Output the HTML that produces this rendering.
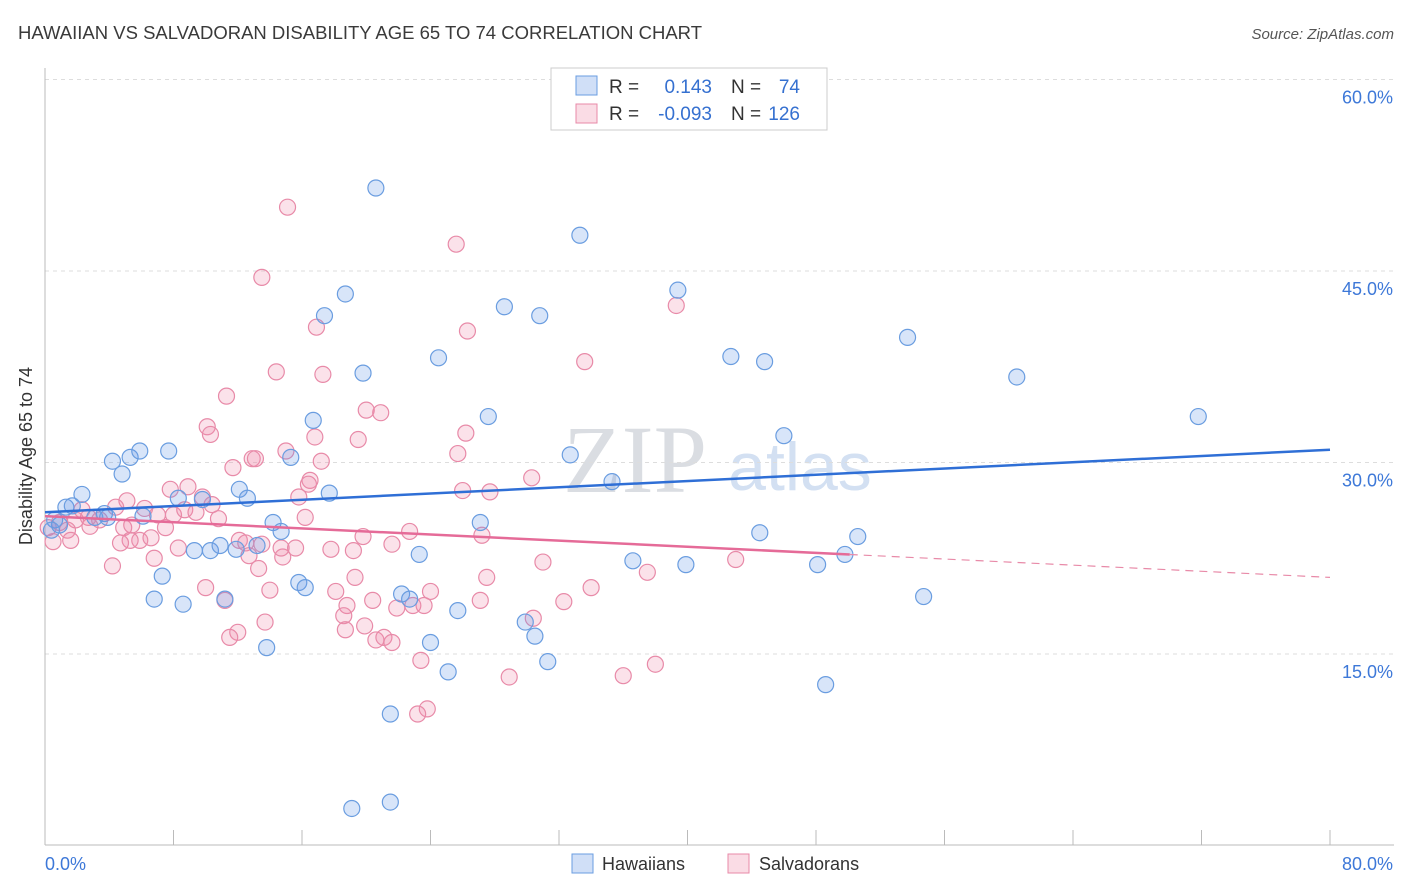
<!DOCTYPE html>
<html><head><meta charset="utf-8">
<style>
body{margin:0;background:#fff;font-family:"Liberation Sans",sans-serif;}
svg{display:block}
</style></head>
<body>
<svg id="chart" width="1406" height="892">
<text x="18" y="39" font-size="18.5" fill="#3a3a3a">HAWAIIAN VS SALVADORAN DISABILITY AGE 65 TO 74 CORRELATION CHART</text>
<text x="1394" y="39" font-size="15" fill="#555" font-style="italic" text-anchor="end">Source: ZipAtlas.com</text>
<text x="635" y="492" font-size="96" fill="#dadde2" font-family="Liberation Serif,serif" text-anchor="middle">ZIP</text>
<text x="800" y="490" font-size="68" fill="#d3e0f2" text-anchor="middle">atlas</text>
<g id="grid"></g>
<g id="axes"></g>
<g id="marks"></g>
<g id="lines"></g>
<text transform="translate(32,456) rotate(-90)" font-size="18" fill="#333" text-anchor="middle">Disability Age 65 to 74</text>
<g>
<rect x="551" y="68" width="276" height="62" fill="#fff" stroke="#ccc"/>
<rect x="576" y="76" width="21" height="19" fill="rgba(100,150,230,0.3)" stroke="#6a9de0"/>
<rect x="576" y="104" width="21" height="19" fill="rgba(240,140,170,0.3)" stroke="#e88aa8"/>
<text x="609" y="93" font-size="19" fill="#333">R = </text>
<text x="712" y="93" font-size="19" fill="#3570d0" text-anchor="end">0.143</text>
<text x="731" y="93" font-size="19" fill="#333">N = </text>
<text x="800" y="93" font-size="19" fill="#3570d0" text-anchor="end">74</text>
<text x="609" y="120" font-size="19" fill="#333">R = </text>
<text x="712" y="120" font-size="19" fill="#3570d0" text-anchor="end">-0.093</text>
<text x="731" y="120" font-size="19" fill="#333">N = </text>
<text x="800" y="120" font-size="19" fill="#3570d0" text-anchor="end">126</text>
</g>
<g>
<rect x="572" y="854" width="21" height="19" fill="rgba(100,150,230,0.3)" stroke="#6a9de0"/>
<text x="602" y="870" font-size="18" fill="#333">Hawaiians</text>
<rect x="728" y="854" width="21" height="19" fill="rgba(240,140,170,0.3)" stroke="#e88aa8"/>
<text x="759" y="870" font-size="18" fill="#333">Salvadorans</text>
</g>
</svg>
<script>
const yTicks=[15,30,45,60];
const yTickLabels=["15.0%","30.0%","45.0%","60.0%"];
const xTicks=[0,8,16,24,32,40,48,56,64,72,80];
const blueX=[20.6,33.3,18.7,39.4,17.4,28.6,30.8,24.5,42.7,44.8,53.7,60.5,19.8,71.8,16.7,27.6,46.0,32.7,15.3,4.2,5.3,5.9,7.7,4.8,35.3,2.3,1.3,1.7,12.1,12.6,8.3,9.8,17.7,3.1,3.7,3.9,6.1,0.6,0.9,0.4,14.2,14.7,27.1,44.5,50.6,49.8,9.3,10.3,10.9,11.9,13.2,23.3,36.6,39.9,48.1,7.3,15.8,16.2,22.2,22.7,6.8,8.6,11.2,25.7,29.9,30.5,13.8,24.0,54.7,25.1,31.3,48.6,21.5,19.1,21.5];
const blueY=[51.5,47.8,43.2,43.5,41.5,42.2,41.5,38.2,38.3,37.9,39.8,36.7,37.0,33.6,33.3,33.6,32.1,30.6,30.4,30.1,30.4,30.9,30.9,29.1,28.5,27.5,26.5,26.6,27.9,27.2,27.2,27.1,27.6,25.7,26.0,25.7,25.8,25.5,25.1,24.7,25.3,24.6,25.3,24.5,24.2,22.8,23.1,23.1,23.5,23.2,23.5,22.8,22.3,22.0,22.0,21.1,20.6,20.2,19.7,19.3,19.3,18.9,19.3,18.4,17.5,16.4,15.5,15.9,19.5,13.6,14.4,12.6,10.3,2.9,3.4];
const pinkX=[15.1,25.6,13.5,39.3,16.9,26.3,33.6,14.4,17.3,11.3,20.0,20.9,10.1,10.3,19.5,26.2,15.0,16.8,25.7,12.9,13.1,11.7,17.2,30.3,16.5,16.4,15.8,26.0,27.7,7.8,8.9,5.1,6.2,7.0,8.0,8.7,9.4,10.4,10.8,9.8,16.2,4.4,2.3,2.7,3.4,1.9,0.9,1.4,0.2,0.5,1.6,2.8,4.9,5.4,5.9,6.6,7.5,8.3,5.3,4.7,4.2,6.8,12.1,12.5,12.7,13.3,13.5,14.8,14.7,15.6,17.8,19.2,19.8,21.6,22.7,27.2,31.0,43.0,14.0,13.7,12.0,11.5,10.0,18.1,19.3,20.4,18.8,18.6,19.9,18.7,20.6,21.1,21.6,21.9,22.9,23.6,24.0,27.1,27.5,30.4,32.3,34.0,37.5,23.4,23.8,23.2,28.9,36.0,38.0,11.2];
const pinkY=[50.0,47.1,44.5,42.3,40.6,40.3,37.9,37.1,36.9,35.2,34.1,33.9,32.8,32.2,31.8,32.3,30.9,32.0,30.7,30.3,30.3,29.6,30.1,28.8,28.6,28.3,27.3,27.8,27.7,27.9,28.1,27.0,26.4,25.9,25.9,26.3,26.1,26.7,25.6,27.3,25.7,26.5,26.3,25.7,25.5,25.5,25.3,24.7,24.9,23.8,23.9,25.0,24.9,25.1,23.9,24.1,24.9,23.3,23.9,23.7,21.9,22.5,23.9,23.7,22.7,21.7,23.6,22.6,23.3,23.3,23.2,23.1,24.2,23.6,24.6,24.3,22.2,22.4,20.0,17.5,16.7,16.3,20.2,19.9,21.0,19.2,18.8,18.0,17.2,16.9,16.1,16.3,15.9,18.6,18.8,18.8,19.9,19.2,21.0,17.8,19.1,20.2,21.4,14.5,10.7,10.3,13.2,13.3,14.2,19.2];
const blueTrend=[26.1,31.0];
const pinkTrend=[25.8,21.0];
const pinkSolidEnd=50.1;

const NS="http://www.w3.org/2000/svg";
const X0=45,X1=1330,Y0=845.5,YS=191.5/15;
const xs=v=>X0+(X1-X0)*v/80;
const ys=v=>Y0-v*YS;
function mk(tag,attrs,parent){const e=document.createElementNS(NS,tag);for(const k in attrs)e.setAttribute(k,attrs[k]);document.getElementById(parent).appendChild(e);return e;}
yTicks.forEach((t,i)=>{
  const g=mk('line',{x1:45,x2:1394,y1:ys(t),y2:ys(t),stroke:'#ddd','stroke-dasharray':'4,4'},'grid');
  
  
  const l=mk('text',{x:1393,y:ys(t)+24,'font-size':18,fill:'#3d78d8','text-anchor':'end'},'axes');
  l.textContent=yTickLabels[i];
  
  
});
const ax=mk('line',{x1:45,x2:45,y1:68,y2:845,stroke:'#bbb'},'axes');


const bx=mk('line',{x1:45,x2:1394,y1:845,y2:845,stroke:'#bbb'},'axes');


xTicks.forEach(t=>{
  const k=mk('line',{x1:xs(t),x2:xs(t),y1:830,y2:845,stroke:'#bbb'},'axes');
  
  
});
const xl0=mk('text',{x:45,y:870,'font-size':18,fill:'#3d78d8'},'axes');xl0.textContent='0.0%';


const xl1=mk('text',{x:1393,y:870,'font-size':18,fill:'#3d78d8','text-anchor':'end'},'axes');xl1.textContent='80.0%';


pinkX.forEach((x,i)=>{
  const c=mk('circle',{cx:xs(x),cy:ys(pinkY[i]),r:8,fill:'rgba(240,140,170,0.25)',stroke:'#e88aa8','stroke-width':1.2},'marks');
  
  
});
blueX.forEach((x,i)=>{
  const c=mk('circle',{cx:xs(x),cy:ys(blueY[i]),r:8,fill:'rgba(100,150,230,0.25)',stroke:'#6a9de0','stroke-width':1.2},'marks');
  
  
});
const bl=mk('line',{x1:xs(0),y1:ys(blueTrend[0]),x2:xs(80),y2:ys(blueTrend[1]),stroke:'#2f6fd6','stroke-width':2.5},'lines');


const pm=pinkTrend[0]+(pinkTrend[1]-pinkTrend[0])*pinkSolidEnd/80;
const pl=mk('line',{x1:xs(0),y1:ys(pinkTrend[0]),x2:xs(pinkSolidEnd),y2:ys(pm),stroke:'#e56b98','stroke-width':2.5},'lines');


const pd=mk('line',{x1:xs(pinkSolidEnd),y1:ys(pm),x2:xs(80),y2:ys(pinkTrend[1]),stroke:'#e88aa8','stroke-width':1.2,'stroke-dasharray':'8,6'},'lines');


</script>
</body></html>
